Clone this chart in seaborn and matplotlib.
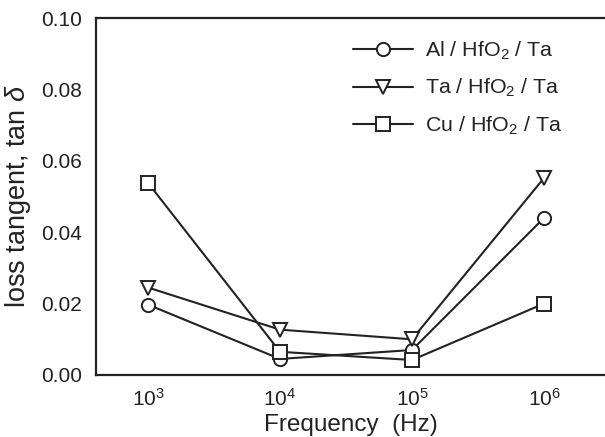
import matplotlib
matplotlib.use("Agg")
import matplotlib.pyplot as plt
import seaborn as sns
import pandas as pd
import numpy as np

freq = [1e3, 1e4, 1e5, 1e6]
al_vals = [0.0197, 0.0045, 0.0070, 0.0440]
ta_vals = [0.0245, 0.0127, 0.0100, 0.0552]
cu_vals = [0.0538, 0.0065, 0.0042, 0.0200]
series_names = ["Al / HfO$_2$ / Ta", "Ta / HfO$_2$ / Ta", "Cu / HfO$_2$ / Ta"]
markers = ["o", "v", "s"]
yticks = [0.00, 0.02, 0.04, 0.06, 0.08, 0.10]

sns.set_style("white")
plt.rcParams['font.family'] = ['Liberation Sans', 'DejaVu Sans']
plt.rcParams['mathtext.fontset'] = 'custom'
plt.rcParams['mathtext.rm'] = 'Liberation Sans'
plt.rcParams['mathtext.it'] = 'Liberation Sans:italic'
plt.rcParams['mathtext.bf'] = 'Liberation Sans:bold'

df = pd.concat([
    pd.DataFrame({"freq": freq, "val": v, "series": n})
    for v, n in zip([al_vals, ta_vals, cu_vals], series_names)
])

fig = plt.figure(figsize=(6.05, 4.37), dpi=100)
ax = fig.add_axes([96/605, 62/437, 1 - 96/605, (375-18)/437])

for name, m in zip(series_names, markers):
    sub = df[df.series == name]
    sns.lineplot(data=sub, x="freq", y="val", ax=ax, color="#222222",
                 marker=m, markersize=10 if m != "o" else 9.5,
                 markerfacecolor="white", markeredgecolor="#222222",
                 markeredgewidth=1.4, linewidth=1.5, label=name)

ax.set_xscale("log")
ax.set_xlim(10**2.606, 10**6.462)
ax.set_ylim(0, 0.10)
ax.set_xticks(freq)
ax.set_xticklabels(["$10^{%d}$" % int(np.log10(f)) for f in freq])
ax.minorticks_off()
ax.set_yticks(yticks)
ax.set_yticklabels(["%.2f" % y for y in yticks])
ax.tick_params(direction="in", length=8, width=1.3, labelsize=15, colors="#222222")
ax.tick_params(axis="y", pad=10)
ax.tick_params(axis="x", pad=9)
for s in ["left", "bottom", "top"]:
    ax.spines[s].set_linewidth(1.6)
    ax.spines[s].set_color("#222222")
ax.spines["right"].set_visible(False)

ax.set_xlabel("Frequency  (Hz)", fontsize=17.5, color="#222222", labelpad=3)
ax.set_ylabel("loss tangent, tan $\\mathit{\\delta}$", fontsize=19.5, color="#222222", labelpad=6)

leg = ax.legend(loc="upper left", bbox_to_anchor=(0.505, 0.94), frameon=False,
                borderaxespad=0, borderpad=0,
                fontsize=15.4, handlelength=2.8, handletextpad=0.55, labelspacing=0.72,
                labelcolor="#222222")

fig.savefig("out.png", dpi=100)
